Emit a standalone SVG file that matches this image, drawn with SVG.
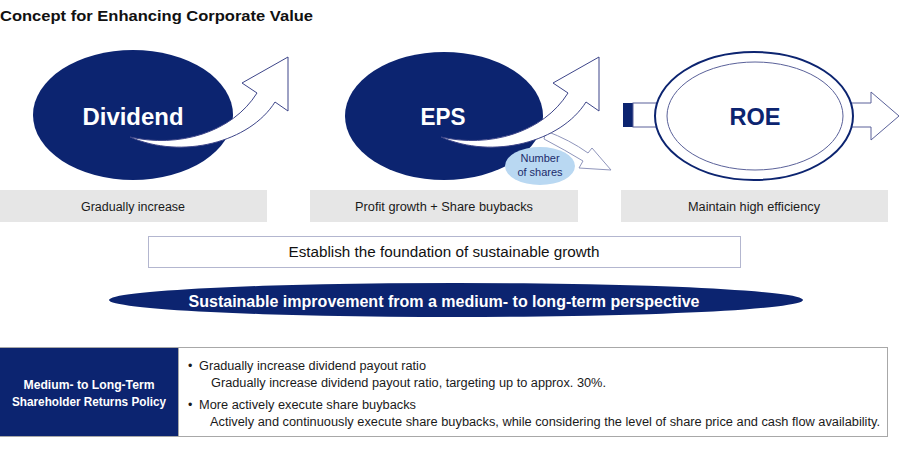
<svg xmlns="http://www.w3.org/2000/svg" width="900" height="456" viewBox="0 0 900 456">
<defs>
<style>
text{font-family:"Liberation Sans",Arial,sans-serif}
.navy{fill:#0c2470}
.wt{fill:#fff}
.big{font-size:23px;font-weight:bold;text-anchor:middle}
.lbl{font-size:12.5px;fill:#1a1a1a;text-anchor:middle}
.gbox{fill:#e6e6e6}
.arr{fill:#fff;stroke:#3d4589;stroke-width:1}
.arr2{fill:#fff;stroke:#8f95bb;stroke-width:1}
.body{font-size:12.5px;fill:#1a1a1a}
</style>
<path id="bigArrow" d="M130,137 C178,148 232,133 257,93 L242,83 L288,57 L288,111 L275,102 C250,142 182,160 130,137 Z"/>
</defs>
<rect width="900" height="456" fill="#fff"/>
<text x="0" y="21" font-size="15" font-weight="bold" fill="#111" textLength="313" lengthAdjust="spacingAndGlyphs">Concept for Enhancing Corporate Value</text>

<g id="dividend">
<ellipse cx="133" cy="115" rx="100" ry="65" class="navy"/>
<text x="133" y="125" class="big wt" textLength="101" lengthAdjust="spacingAndGlyphs">Dividend</text>
</g>

<g id="eps">
<path class="arr2" d="M546,131 Q570,140 588,153 L592,148 L611,170 L579,168 L583,161 Q565,150 544,139 Z"/>
<ellipse cx="444" cy="116" rx="99" ry="64" class="navy"/>
<text x="443" y="125" class="big wt" textLength="45" lengthAdjust="spacingAndGlyphs">EPS</text>
</g>

<g id="roe">
<rect x="623" y="103" width="10" height="24" class="navy"/>
<rect x="633" y="103" width="30" height="24" fill="#fff" stroke="#5a6199" stroke-width="1"/>
<path d="M845,103 L871,103 L871,92 L899,116 L871,140 L871,127 L845,127 Z" fill="#fff" stroke="#5a6199" stroke-width="1"/>
<ellipse cx="754" cy="116" rx="99" ry="64" fill="#fff" stroke="#0c2470" stroke-width="2"/>
<ellipse cx="755" cy="116" rx="88" ry="54" fill="none" stroke="#5a6199" stroke-width="1"/>
<text x="755" y="125" class="big" fill="#0c2470" textLength="51" lengthAdjust="spacingAndGlyphs">ROE</text>
</g>

<g id="connectors">
<use href="#bigArrow" class="arr"/>
<use href="#bigArrow" class="arr" transform="translate(311,0)"/>
</g>

<g id="shares">
<ellipse cx="540" cy="166" rx="35" ry="19" fill="#b9d8f2"/>
<text x="540" y="162" font-size="11" fill="#1c2b6b" text-anchor="middle">Number</text>
<text x="540" y="176" font-size="11" fill="#1c2b6b" text-anchor="middle">of shares</text>
</g>

<g id="label-dividend">
<rect x="0" y="190" width="267" height="32" class="gbox"/>
<text x="133" y="211" class="lbl" textLength="104" lengthAdjust="spacingAndGlyphs">Gradually increase</text>
</g>
<g id="label-eps">
<rect x="310" y="190" width="268" height="32" class="gbox"/>
<text x="444" y="211" class="lbl" textLength="178" lengthAdjust="spacingAndGlyphs">Profit growth + Share buybacks</text>
</g>
<g id="label-roe">
<rect x="621" y="190" width="267" height="32" class="gbox"/>
<text x="754" y="211" class="lbl" textLength="132" lengthAdjust="spacingAndGlyphs">Maintain high efficiency</text>
</g>

<g id="foundation">
<rect x="148.5" y="236.5" width="592" height="31" fill="#fff" stroke="#b3b6cf" stroke-width="1"/>
<text x="444" y="257" font-size="14" fill="#111" text-anchor="middle" textLength="311" lengthAdjust="spacingAndGlyphs">Establish the foundation of sustainable growth</text>
</g>

<g id="band">
<ellipse cx="456" cy="300" rx="347" ry="17" class="navy"/>
<text x="444" y="307" font-size="17" font-weight="bold" class="wt" text-anchor="middle" textLength="511" lengthAdjust="spacingAndGlyphs">Sustainable improvement from a medium- to long-term perspective</text>
</g>

<g id="policy">
<rect x="178.5" y="347.5" width="709" height="89" fill="#fff" stroke="#a8a8a8" stroke-width="1"/>
<rect x="0" y="347" width="178" height="90" class="navy"/>
<line x1="0" y1="347.5" x2="178" y2="347.5" stroke="#a8a8a8"/>
<line x1="0" y1="436.5" x2="178" y2="436.5" stroke="#a8a8a8"/>
<text x="89" y="389" font-size="12.5" font-weight="bold" class="wt" text-anchor="middle" textLength="131" lengthAdjust="spacingAndGlyphs">Medium- to Long-Term</text>
<text x="89" y="406" font-size="12.5" font-weight="bold" class="wt" text-anchor="middle" textLength="154" lengthAdjust="spacingAndGlyphs">Shareholder Returns Policy</text>
<text x="188" y="370" class="body">•</text>
<text x="199" y="370" class="body" textLength="227" lengthAdjust="spacingAndGlyphs">Gradually increase dividend payout ratio</text>
<text x="211" y="386.5" class="body" textLength="395" lengthAdjust="spacingAndGlyphs">Gradually increase dividend payout ratio, targeting up to approx. 30%.</text>
<text x="188" y="409" class="body">•</text>
<text x="199" y="409" class="body" textLength="217" lengthAdjust="spacingAndGlyphs">More actively execute share buybacks</text>
<text x="210" y="425.5" class="body" textLength="670" lengthAdjust="spacingAndGlyphs">Actively and continuously execute share buybacks, while considering the level of share price and cash flow availability.</text>
</g>
</svg>
